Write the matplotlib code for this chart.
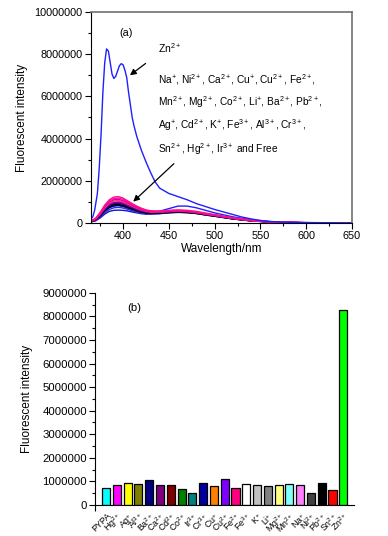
import numpy as np
import matplotlib
matplotlib.use("Agg")
import matplotlib.pyplot as plt
from matplotlib.ticker import MultipleLocator, FixedLocator

plt.rcParams['font.family'] = ['Liberation Sans', 'DejaVu Sans']
plt.rcParams['mathtext.fontset'] = 'custom'
plt.rcParams['mathtext.rm'] = 'Liberation Sans'
plt.rcParams['mathtext.it'] = 'Liberation Sans'
plt.rcParams['mathtext.bf'] = 'Liberation Sans:bold'

# ---------------- data: panel (a) spectra (intensity in millions) ----------------
wl_zn = [365, 367, 369, 372, 374, 376, 378, 380, 382, 384, 386, 388, 390, 392, 394,
         396, 398, 400, 402, 404, 406, 408, 410, 412, 415, 420, 425, 430, 435, 440,
         450, 460, 470, 480, 490, 500, 510, 520, 530, 540, 550, 560, 575, 600, 625, 650]
zn_curve = [0.18, 0.3, 0.6, 1.4, 2.6, 4.2, 6.2, 7.6, 8.25, 8.15, 7.6, 7.05, 6.85, 6.95, 7.2,
            7.45, 7.55, 7.5, 7.25, 6.9, 6.2, 5.6, 5.0, 4.6, 4.1, 3.45, 2.9, 2.4, 1.95, 1.65,
            1.4, 1.25, 1.1, 0.92, 0.78, 0.64, 0.52, 0.4, 0.28, 0.19, 0.12, 0.07, 0.04, 0.02, 0.01, 0.0]

wl_ions = [365, 370, 375, 380, 385, 390, 395, 400, 405, 410, 415, 420, 425, 430,
           440, 450, 460, 470, 480, 490, 500, 520, 540, 560, 580, 600, 650]
curve_pink = [.10, .22, .50, .85, 1.10, 1.23, 1.25, 1.18, 1.05, .92, .80, .70, .62, .58,
              .56, .60, .62, .60, .55, .47, .40, .25, .13, .06, .03, .015, 0]
curve_magenta = [.10, .20, .46, .80, 1.04, 1.16, 1.18, 1.12, 1.00, .88, .76, .67, .60, .56,
                 .55, .58, .60, .58, .53, .45, .38, .24, .12, .06, .03, .015, 0]
curve_rose = [.09, .19, .44, .76, .99, 1.10, 1.12, 1.06, .95, .84, .73, .64, .58, .54,
              .53, .56, .58, .56, .51, .44, .37, .23, .12, .06, .03, .015, 0]
curve_hotpink = [.09, .18, .42, .72, .94, 1.04, 1.06, 1.00, .90, .80, .70, .62, .56, .52,
                 .52, .55, .57, .55, .50, .43, .36, .22, .11, .05, .025, .01, 0]
curve_purple = [.08, .17, .40, .68, .89, .98, 1.00, .95, .86, .76, .67, .59, .54, .50,
                .50, .53, .55, .53, .48, .41, .35, .21, .11, .05, .025, .01, 0]
curve_violet = [.08, .17, .39, .66, .86, .95, .97, .92, .83, .74, .65, .58, .53, .50,
                .51, .55, .58, .56, .50, .43, .36, .22, .11, .05, .025, .01, 0]
curve_black1 = [.08, .16, .37, .64, .83, .92, .94, .89, .80, .71, .63, .56, .51, .48,
                .48, .51, .53, .51, .46, .40, .33, .20, .10, .05, .02, .01, 0]
curve_black2 = [.07, .15, .35, .60, .78, .87, .88, .84, .76, .68, .60, .53, .49, .46,
                .46, .49, .51, .49, .45, .38, .32, .19, .10, .05, .02, .01, 0]
curve_navy = [.07, .14, .33, .57, .74, .82, .84, .80, .72, .64, .57, .51, .47, .45,
              .47, .52, .56, .55, .50, .43, .36, .22, .11, .05, .02, .01, 0]
curve_blue = [.07, .14, .32, .55, .72, .80, .82, .78, .71, .64, .58, .53, .50, .50,
              .56, .68, .80, .80, .72, .60, .48, .29, .15, .07, .03, .01, 0]
curve_slate = [.06, .12, .28, .48, .64, .72, .74, .71, .65, .58, .52, .47, .44, .43,
               .45, .50, .54, .53, .48, .41, .34, .20, .10, .05, .02, .01, 0]
curve_lowblue = [.05, .10, .24, .42, .55, .60, .61, .60, .57, .52, .48, .44, .42, .42,
                 .44, .48, .50, .49, .45, .38, .32, .19, .10, .05, .02, .01, 0]

ion_curves = [curve_lowblue, curve_slate, curve_blue, curve_navy, curve_black2, curve_black1,
              curve_violet, curve_purple, curve_hotpink, curve_rose, curve_magenta, curve_pink]
ion_colors = ['#1010E0', '#3030C0', '#2020FF', '#000080', '#000000', '#101010',
              '#6000C0', '#900090', '#FF3399', '#E0007E', '#FF00CC', '#FF1080']

# ---------------- data: panel (b) bars ----------------
bar_labels = ['PYPA', 'Hg$^{2+}$', 'Ag$^{+}$', 'Al$^{3+}$', 'Ba$^{2+}$', 'Ca$^{2+}$',
              'Cd$^{2+}$', 'Co$^{2+}$', 'Ir$^{3+}$', 'Cr$^{3+}$', 'Cu$^{+}$', 'Cu$^{2+}$',
              'Fe$^{2+}$', 'Fe$^{3+}$', 'K$^{+}$', 'Li$^{+}$', 'Mg$^{2+}$', 'Mn$^{2+}$',
              'Na$^{+}$', 'Ni$^{2+}$', 'Pb$^{2+}$', 'Sn$^{2+}$', 'Zn$^{2+}$']
bar_values = [730000, 870000, 930000, 900000, 1050000, 850000, 870000, 700000, 510000,
              940000, 790000, 1100000, 710000, 880000, 840000, 800000, 840000, 900000,
              840000, 510000, 930000, 630000, 8250000]
bar_colors = ['#00FFFF', '#FF00FF', '#FFFF00', '#808000', '#000080', '#800080', '#800000',
              '#008000', '#008080', '#0000A0', '#FF8000', '#8000FF', '#FF0080', '#FFFFFF',
              '#C0C0C0', '#808080', '#FFFF80', '#80FFFF', '#FF80FF', '#404040', '#000000',
              '#FF0000', '#00FF00']

fig = plt.figure(figsize=(3.88, 5.36), dpi=100)

# ---------------- panel (a) ----------------
ax1 = fig.add_axes([0.2345, 0.584, 0.6727, 0.3936])
for c, col in zip(ion_curves, ion_colors):
    ax1.plot(wl_ions, np.array(c) * 1e6, color=col, lw=1.0)
ax1.plot(wl_zn, np.array(zn_curve) * 1e6, color='#1F1FFF', lw=1.0)
ax1.set_xlim(365, 650)
ax1.set_ylim(0, 10000000)
ax1.xaxis.set_major_locator(FixedLocator([400, 450, 500, 550, 600, 650]))
ax1.xaxis.set_minor_locator(FixedLocator([375, 425, 475, 525, 575, 625]))
ax1.yaxis.set_major_locator(MultipleLocator(2000000))
ax1.yaxis.set_minor_locator(MultipleLocator(1000000))
ax1.ticklabel_format(axis='y', style='plain', useOffset=False)
ax1.tick_params(which='both', direction='out', labelsize=7.8, width=0.8)
ax1.tick_params(which='major', length=4, pad=2)
ax1.tick_params(which='minor', length=2.5)
ax1.set_xlabel('Wavelength/nm', fontsize=8.5, labelpad=1)
ax1.set_ylabel('Fluorescent intensity', fontsize=8.5, labelpad=5)
for s in ['top', 'right']:
    ax1.spines[s].set_color('#707070')
    ax1.spines[s].set_linewidth(1.2)

ax1.text(402.8, 9.0e6, '(a)', fontsize=7.8, ha='center', va='center')
ax1.text(438, 8.27e6, 'Zn$^{2+}$', fontsize=7.5, ha='left', va='center')
ion_lines = ['Na$^{+}$, Ni$^{2+}$, Ca$^{2+}$, Cu$^{+}$, Cu$^{2+}$, Fe$^{2+}$,',
             'Mn$^{2+}$, Mg$^{2+}$, Co$^{2+}$, Li$^{+}$, Ba$^{2+}$, Pb$^{2+}$,',
             'Ag$^{+}$, Cd$^{2+}$, K$^{+}$, Fe$^{3+}$, Al$^{3+}$, Cr$^{3+}$,',
             'Sn$^{2+}$, Hg$^{2+}$, Ir$^{3+}$ and Free']
ion_line_y = [6.81e6, 5.71e6, 4.62e6, 3.48e6]
for t, yy in zip(ion_lines, ion_line_y):
    ax1.text(438, yy, t, fontsize=7.3, ha='left', va='center')
ax1.annotate('', xy=(407.5, 7.0e6), xytext=(424.6, 7.56e6),
             arrowprops=dict(arrowstyle='-|>', color='black', lw=0.9,
                             mutation_scale=9, shrinkA=0, shrinkB=0))
ax1.annotate('', xy=(411.1, 1.01e6), xytext=(455.5, 2.81e6),
             arrowprops=dict(arrowstyle='-|>', color='black', lw=0.9,
                             mutation_scale=9, shrinkA=0, shrinkB=0))

# ---------------- panel (b) ----------------
ax2 = fig.add_axes([0.2456, 0.0578, 0.667, 0.396])
pos = np.arange(1, len(bar_values) + 1)
ax2.bar(pos, bar_values, width=0.75, color=bar_colors, edgecolor='black', linewidth=0.9)
ax2.set_xlim(0, 24)
ax2.set_ylim(0, 9000000)
ax2.set_xticks(pos)
ax2.set_xticklabels(bar_labels, rotation=45, ha='right', va='top',
                    rotation_mode='anchor', fontsize=6.4)
ax2.xaxis.set_minor_locator(FixedLocator([0, 5, 10, 15, 20]))
ax2.tick_params(axis='x', which='major', length=0, pad=4)
ax2.tick_params(axis='x', which='minor', length=4, direction='out', width=0.8)
ax2.yaxis.set_major_locator(MultipleLocator(1000000))
ax2.yaxis.set_minor_locator(MultipleLocator(500000))
ax2.ticklabel_format(axis='y', style='plain', useOffset=False)
ax2.tick_params(axis='y', which='both', direction='out', labelsize=8.2, width=0.8)
ax2.tick_params(axis='y', which='major', length=4, pad=2)
ax2.tick_params(axis='y', which='minor', length=2.5)
ax2.spines['top'].set_visible(False)
ax2.spines['right'].set_visible(False)
ax2.set_ylabel('Fluorescent intensity', fontsize=8.5, labelpad=7)
ax2.text(3.58, 8.36e6, '(b)', fontsize=8.2, ha='center', va='center')

fig.savefig('out.png', dpi=100)
